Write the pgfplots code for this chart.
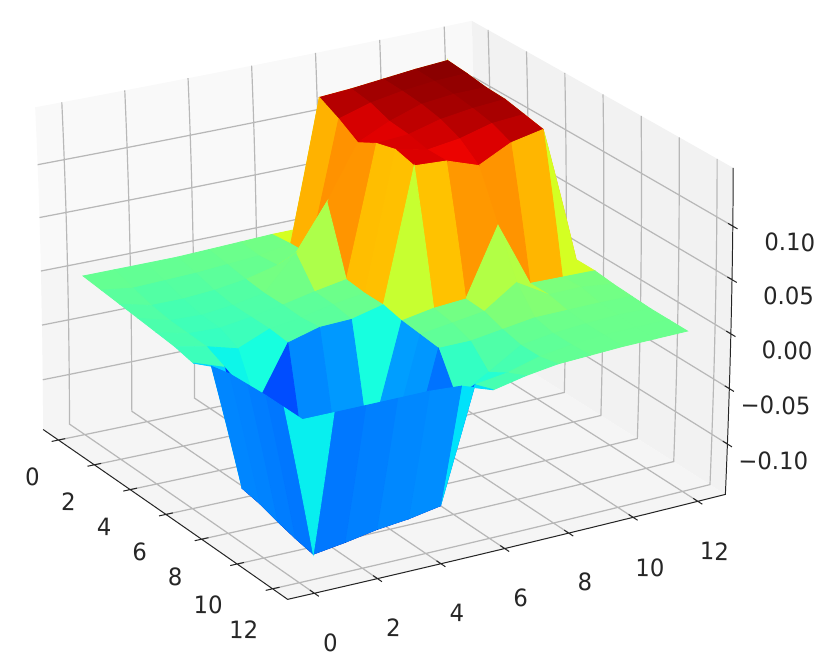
\documentclass[border=0pt]{standalone}
\usepackage{fontspec}
\setmainfont{DejaVu Sans}
\usepackage{pgfplots}
\pgfplotsset{compat=1.18}
\usepgfmodule{nonlineartransformations}
\definecolor{gridc}{gray}{0.72}
\definecolor{axisc}{gray}{0.15}
\pgfplotsset{colormap={mpljet}{
  rgb(0pt)=(0,0,0.5); rgb(110pt)=(0,0,1); rgb(125pt)=(0,0,1);
  rgb(340pt)=(0,0.86,1); rgb(350pt)=(0,0.9,0.968); rgb(375pt)=(0.0806,1,0.887);
  rgb(640pt)=(0.935,1,0.032); rgb(650pt)=(0.968,0.963,0); rgb(660pt)=(1,0.926,0);
  rgb(890pt)=(1,0.074,0); rgb(910pt)=(0.909,0,0); rgb(1000pt)=(0.5,0,0)}}
% mild perspective of the matplotlib view, applied to the drawn paths
\makeatletter
\newdimen\warpX \newdimen\warpY
\def\perspectivewarp{%
  \warpX=\pgf@x \warpY=\pgf@y
  \pgfmathsetmacro\warpu{(2*\warpX-141)/344}%
  \pgfmathsetmacro\warpv{(-54-2*\warpY)/290}%
  \pgfmathsetmacro\warpdx{0.5-11.9*\warpu*\warpv+6.8*\warpu*\warpu-10.7*\warpv*\warpv}%
  \pgfmathsetmacro\warpdy{4+17*\warpv*\warpv-9.3*\warpu*\warpu}%
  \pgf@x=\warpX \advance\pgf@x by 0.25\dimexpr\warpdx pt\relax
  \pgf@y=\warpY \advance\pgf@y by -0.25\dimexpr\warpdy pt\relax
}
\makeatother
\begin{document}
\begin{tikzpicture}
\useasboundingbox (-20pt,-118.5pt) rectangle (395pt,215.5pt);
\pgftransformnonlinear{\perspectivewarp}
\begin{axis}[
  anchor=origin, at={(21.4pt,76.7pt)},
  x={(9.2pt,-5.85pt)}, y={(15.9pt,3.45pt)}, z={(0pt,543.5pt)},
  xmin=-0.85, xmax=12.85, ymin=-0.85, ymax=12.85, zmin=-0.145, zmax=0.155,
  xtick={0,2,4,6,8,10,12}, ytick={0,2,4,6,8,10,12},
  ztick={-0.10,-0.05,0,0.05,0.10},
  zticklabels={−0.10,−0.05,0.00,0.05,0.10},
  xticklabels={0,2,4,6,8,10,12}, yticklabels={0,2,4,6,8,10,12},
  zticklabel pos=right,
  major tick length=0pt,
  tick style={draw=none},
  axis line style={draw=none},
  ticklabel style={font=\fontsize{11.6}{13}\selectfont, text=axisc},
  xticklabel style={xshift=-6.5pt, yshift=-9.8pt},
  yticklabel style={xshift=4.2pt, yshift=-15pt},
  zticklabel style={anchor=east, xshift=43.5pt, yshift=-10pt},
  unbounded coords=jump,
  colormap name=mpljet, point meta min=-0.137, point meta max=0.149,
  clip=false,
]
% panes
\addplot3[fill={rgb,1:red,0.975;green,0.975;blue,0.975}, draw=none] coordinates {(-0.85,-0.85,-0.145) (-0.85,12.85,-0.145) (-0.85,12.85,0.155) (-0.85,-0.85,0.155)} \closedcycle;
\addplot3[fill={rgb,1:red,0.95;green,0.95;blue,0.95}, draw=none] coordinates {(-0.85,12.85,-0.145) (12.85,12.85,-0.145) (12.85,12.85,0.155) (-0.85,12.85,0.155)} \closedcycle;
\addplot3[fill={rgb,1:red,0.9625;green,0.9625;blue,0.9625}, draw=none] coordinates {(-0.85,-0.85,-0.145) (12.85,-0.85,-0.145) (12.85,12.85,-0.145) (-0.85,12.85,-0.145)} \closedcycle;
% grid
\addplot3[gridc, line width=0.6pt] coordinates {
(0,-0.85,-0.145) (0,12.85,-0.145) (0,12.85,0.155) (nan,nan,nan)
(2,-0.85,-0.145) (2,12.85,-0.145) (2,12.85,0.155) (nan,nan,nan)
(4,-0.85,-0.145) (4,12.85,-0.145) (4,12.85,0.155) (nan,nan,nan)
(6,-0.85,-0.145) (6,12.85,-0.145) (6,12.85,0.155) (nan,nan,nan)
(8,-0.85,-0.145) (8,12.85,-0.145) (8,12.85,0.155) (nan,nan,nan)
(10,-0.85,-0.145) (10,12.85,-0.145) (10,12.85,0.155) (nan,nan,nan)
(12,-0.85,-0.145) (12,12.85,-0.145) (12,12.85,0.155) (nan,nan,nan)
(12.85,0,-0.145) (-0.85,0,-0.145) (-0.85,0,0.155) (nan,nan,nan)
(12.85,2,-0.145) (-0.85,2,-0.145) (-0.85,2,0.155) (nan,nan,nan)
(12.85,4,-0.145) (-0.85,4,-0.145) (-0.85,4,0.155) (nan,nan,nan)
(12.85,6,-0.145) (-0.85,6,-0.145) (-0.85,6,0.155) (nan,nan,nan)
(12.85,8,-0.145) (-0.85,8,-0.145) (-0.85,8,0.155) (nan,nan,nan)
(12.85,10,-0.145) (-0.85,10,-0.145) (-0.85,10,0.155) (nan,nan,nan)
(12.85,12,-0.145) (-0.85,12,-0.145) (-0.85,12,0.155) (nan,nan,nan)
(-0.85,-0.85,-0.10) (-0.85,12.85,-0.10) (12.85,12.85,-0.10) (nan,nan,nan)
(-0.85,-0.85,-0.05) (-0.85,12.85,-0.05) (12.85,12.85,-0.05) (nan,nan,nan)
(-0.85,-0.85,0) (-0.85,12.85,0) (12.85,12.85,0) (nan,nan,nan)
(-0.85,-0.85,0.05) (-0.85,12.85,0.05) (12.85,12.85,0.05) (nan,nan,nan)
(-0.85,-0.85,0.10) (-0.85,12.85,0.10) (12.85,12.85,0.10)
};
% axis edges and tick marks
\addplot3[axisc, line width=0.5pt] coordinates {
(-0.85,-0.85,-0.145) (12.85,-0.85,-0.145) (12.85,12.85,-0.145) (12.85,12.85,0.155) (nan,nan,nan)
(0,-1.07,-0.145) (0,-0.63,-0.145) (nan,nan,nan)
(2,-1.07,-0.145) (2,-0.63,-0.145) (nan,nan,nan)
(4,-1.07,-0.145) (4,-0.63,-0.145) (nan,nan,nan)
(6,-1.07,-0.145) (6,-0.63,-0.145) (nan,nan,nan)
(8,-1.07,-0.145) (8,-0.63,-0.145) (nan,nan,nan)
(10,-1.07,-0.145) (10,-0.63,-0.145) (nan,nan,nan)
(12,-1.07,-0.145) (12,-0.63,-0.145) (nan,nan,nan)
(13.1,0,-0.145) (12.6,0,-0.145) (nan,nan,nan)
(13.1,2,-0.145) (12.6,2,-0.145) (nan,nan,nan)
(13.1,4,-0.145) (12.6,4,-0.145) (nan,nan,nan)
(13.1,6,-0.145) (12.6,6,-0.145) (nan,nan,nan)
(13.1,8,-0.145) (12.6,8,-0.145) (nan,nan,nan)
(13.1,10,-0.145) (12.6,10,-0.145) (nan,nan,nan)
(13.1,12,-0.145) (12.6,12,-0.145) (nan,nan,nan)
(13.1,12.85,-0.10) (12.6,12.85,-0.10) (nan,nan,nan)
(13.1,12.85,-0.05) (12.6,12.85,-0.05) (nan,nan,nan)
(13.1,12.85,0) (12.6,12.85,0) (nan,nan,nan)
(13.1,12.85,0.05) (12.6,12.85,0.05) (nan,nan,nan)
(13.1,12.85,0.10) (12.6,12.85,0.10)
};
% surface
\addplot3[surf, shader=flat mean, mesh/cols=13] table {
x y z
0 0 0
1 0 -0.002
2 0 -0.004
3 0 -0.006
4 0 -0.008
5 0 -0.010
6 0 -0.014
7 0 -0.006
8 0 -0.002
9 0 -0.001
10 0 0
11 0 0
12 0 0

0 1 0
1 1 -0.006
2 1 -0.011
3 1 -0.014
4 1 -0.015
5 1 -0.016
6 1 -0.024
7 1 -0.122
8 1 -0.125
9 1 -0.130
10 1 -0.134
11 1 -0.137
12 1 0

0 2 0
1 2 -0.005
2 2 -0.011
3 2 -0.015
4 2 -0.016
5 2 -0.024
6 2 -0.065
7 2 -0.122
8 2 -0.122
9 2 -0.125
10 2 -0.128
11 2 -0.133
12 2 0

0 3 0
1 3 -0.004
2 3 -0.009
3 3 -0.012
4 3 -0.012
5 3 -0.012
6 3 -0.014
7 3 -0.118
8 3 -0.120
9 3 -0.122
10 3 -0.125
11 3 -0.128
12 3 0

0 4 0.001
1 4 -0.002
2 4 -0.005
3 4 -0.007
4 4 -0.007
5 4 -0.008
6 4 -0.006
7 4 -0.112
8 4 -0.115
9 4 -0.118
10 4 -0.120
11 4 -0.125
12 4 0

0 5 0.002
1 5 0
2 5 0.002
3 5 0.024
4 5 -0.001
5 5 -0.002
6 5 -0.005
7 5 -0.110
8 5 -0.112
9 5 -0.114
10 5 -0.116
11 5 -0.120
12 5 -0.002

0 6 0.003
1 6 0.005
2 6 0.006
3 6 0.066
4 6 0.004
5 6 0.002
6 6 0.002
7 6 -0.002
8 6 -0.004
9 6 -0.006
10 6 -0.040
11 6 -0.018
12 6 -0.012

0 7 0.003
1 7 0.138
2 7 0.128
3 7 0.116
4 7 0.126
5 7 0.131
6 7 0.126
7 7 0.003
8 7 0
9 7 -0.006
10 7 -0.024
11 7 -0.014
12 7 -0.006

0 8 0.003
1 8 0.140
2 8 0.137
3 8 0.130
4 8 0.128
5 8 0.124
6 8 0.124
7 8 0.005
8 8 0.004
9 8 -0.002
10 8 -0.006
11 8 -0.006
12 8 -0.002

0 9 0.003
1 9 0.143
2 9 0.142
3 9 0.140
4 9 0.136
5 9 0.128
6 9 0.113
7 9 0.067
8 9 0.024
9 9 0.002
10 9 -0.002
11 9 -0.002
12 9 -0.001

0 10 0.003
1 10 0.146
2 10 0.145
3 10 0.143
4 10 0.140
5 10 0.136
6 10 0.128
7 10 0.006
8 10 0.006
9 10 0.002
10 10 0
11 10 0
12 10 0

0 11 0.003
1 11 0.148
2 11 0.146
3 11 0.143
4 11 0.142
5 11 0.138
6 11 0.134
7 11 0.005
8 11 0.006
9 11 0.002
10 11 0.001
11 11 0
12 11 0

0 12 0.002
1 12 0.003
2 12 0.004
3 12 0.004
4 12 0.004
5 12 0.004
6 12 0.004
7 12 0.004
8 12 0.002
9 12 0.001
10 12 0
11 12 0
12 12 0
};
\end{axis}
\end{tikzpicture}
\end{document}
